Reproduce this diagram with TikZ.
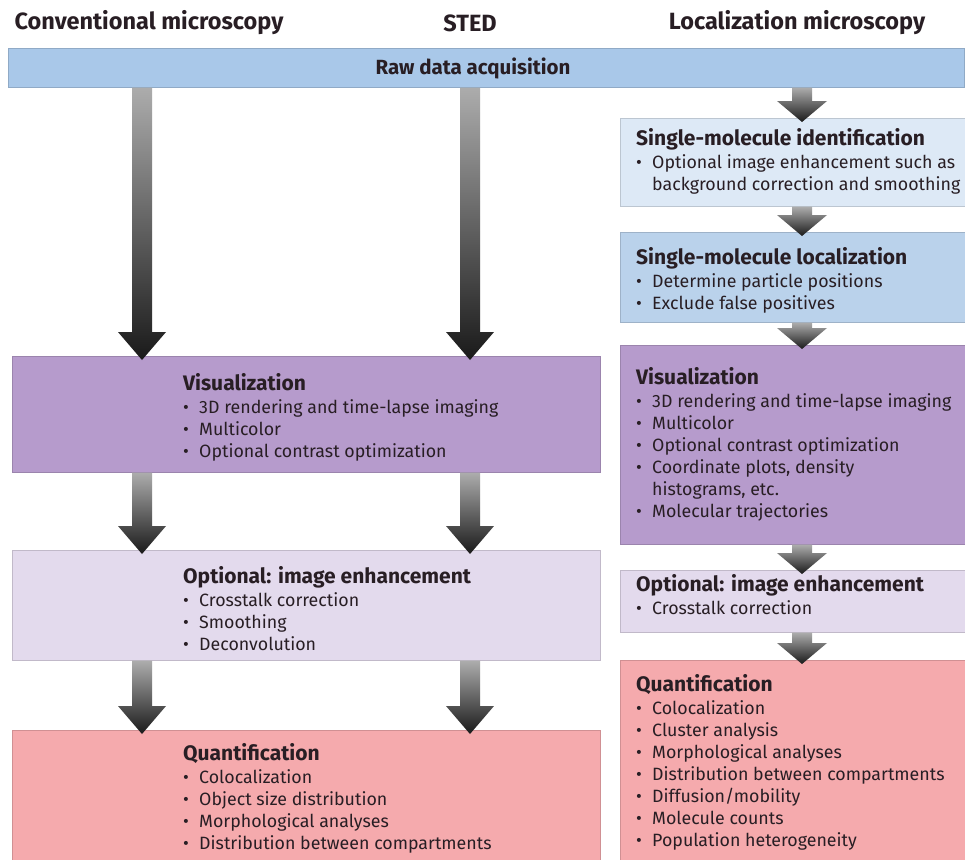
\documentclass[tikz,border=0pt]{standalone}
\usepackage{fontspec}
\setmainfont{Fira Sans}
\newfontfamily\headfont{Fira Sans Bold}
\usetikzlibrary{calc}
\definecolor{rawblue}{RGB}{169,200,233}
\definecolor{smiblue}{RGB}{221,233,246}
\definecolor{smlblue}{RGB}{186,210,235}
\definecolor{vispurple}{RGB}{182,155,204}
\definecolor{optlav}{RGB}{227,218,237}
\definecolor{quantpink}{RGB}{245,170,173}
\definecolor{ink}{RGB}{40,30,36}
\tikzset{
  boxshape/.style={rectangle, inner sep=0pt, anchor=north west, draw=#1!85!black, line width=0.7pt, fill=#1},
  headtext/.style={font=\headfont\fontsize{23.5}{26}\selectfont, text=ink, inner sep=0pt},
  bodytext/.style={align=left, anchor=north west, inner sep=0pt, text=ink, font=\fontsize{17.8}{22}\selectfont},
  fatshade/.style={top color=gray!65, bottom color=black!90, draw=none}
}
\newcommand\ttl[1]{{\fontsize{21}{22}\selectfont\bfseries #1}\\[1pt]}
\newcommand\bul[1]{\makebox[0.9em][l]{\textbullet}#1}
\newcommand\cont[1]{\makebox[0.9em][l]{}#1}
% #1 column coordinate, #2 top node, #3 bottom node, #4 shaft half width, #5 head half width, #6 head length
\newcommand\fatarrow[6]{%
  \path[fatshade] let \p1=(#1 |- #2.south), \p2=(#1 |- #3.north) in
   (\x1-#4pt,\y1) -- (\x1-#4pt,\y2+#6pt-4pt) -- (\x1-#5pt,\y2+#6pt-4pt) -- (\x1,\y2-4pt)
   -- (\x1+#5pt,\y2+#6pt-4pt) -- (\x1+#4pt,\y2+#6pt-4pt) -- (\x1+#4pt,\y1) -- cycle;}
\begin{document}
\begin{tikzpicture}[x=1pt,y=-1pt]
\useasboundingbox (0,0) rectangle (965,859);
\fill[white] (0,0) rectangle (965,859);
% column coordinates
\coordinate (cA) at (142,0);
\coordinate (cB) at (470,0);
\coordinate (cC) at (802,0);
% headers
\node[headtext] (h1) at (149,23) {Conventional microscopy};
\node[headtext] (h2) at (470,23) {STED};
\node[headtext] (h3) at (797,23) {Localization microscopy};
% raw data bar
\node[boxshape=rawblue, minimum width=956pt, minimum height=39pt] (raw) at (8,48) {};
\node[font=\headfont\fontsize{20.5}{22}\selectfont, text=ink, inner sep=0pt] (rawt) at (473,68) {Raw data acquisition};
% left boxes
\node[boxshape=vispurple, minimum width=588pt, minimum height=116pt] (vis1) at (12,356) {};
\node[boxshape=optlav, minimum width=588pt, minimum height=110pt] (opt1) at (12,550) {};
\node[boxshape=quantpink, minimum width=588pt, minimum height=132pt] (quant1) at (12,730) {};
% right boxes
\node[boxshape=smiblue, minimum width=346pt, minimum height=88pt] (smi) at (620,118) {};
\node[boxshape=smlblue, minimum width=346pt, minimum height=90pt] (sml) at (620,232) {};
\node[boxshape=vispurple, minimum width=346pt, minimum height=199pt] (vis2) at (620,345) {};
\node[boxshape=optlav, minimum width=346pt, minimum height=62pt] (opt2) at (620,570) {};
\node[boxshape=quantpink, minimum width=346pt, minimum height=202pt] (quant2) at (620,660) {};
% texts left
\node[bodytext] (vis1t) at (183,373) {\ttl{Visualization}
\bul{3D rendering and time-lapse imaging}\\
\bul{Multicolor}\\
\bul{Optional contrast optimization}};
\node[bodytext] (opt1t) at (183,566) {\ttl{Optional: image enhancement}
\bul{Crosstalk correction}\\
\bul{Smoothing}\\
\bul{Deconvolution}};
\node[bodytext] (quant1t) at (183,743) {\ttl{Quantification}
\bul{Colocalization}\\
\bul{Object size distribution}\\
\bul{Morphological analyses}\\
\bul{Distribution between compartments}};
% texts right
\node[bodytext] (smit) at (636,128) {\ttl{Single-molecule identification}
\bul{Optional image enhancement such as}\\
\cont{background correction and smoothing}};
\node[bodytext] (smlt) at (636,247) {\ttl{Single-molecule localization}
\bul{Determine particle positions}\\
\bul{Exclude false positives}};
\node[bodytext] (vis2t) at (636,367) {\ttl{Visualization}
\bul{3D rendering and time-lapse imaging}\\
\bul{Multicolor}\\
\bul{Optional contrast optimization}\\
\bul{Coordinate plots, density}\\
\cont{histograms, etc.}\\
\bul{Molecular trajectories}};
\node[bodytext] (opt2t) at (636,574) {\ttl{Optional: image enhancement}
\bul{Crosstalk correction}};
\node[bodytext] (quant2t) at (636,674) {\ttl{Quantification}
\bul{Colocalization}\\
\bul{Cluster analysis}\\
\bul{Morphological analyses}\\
\bul{Distribution between compartments}\\
\bul{Diffusion/mobility}\\
\bul{Molecule counts}\\
\bul{Population heterogeneity}};
% arrows left columns
\fatarrow{cA}{raw}{vis1}{10}{24}{28}
\fatarrow{cB}{raw}{vis1}{10}{24}{28}
\fatarrow{cA}{vis1}{opt1}{10}{24}{28}
\fatarrow{cB}{vis1}{opt1}{10}{24}{28}
\fatarrow{cA}{opt1}{quant1}{10}{24}{28}
\fatarrow{cB}{opt1}{quant1}{10}{24}{28}
% arrows right column
\fatarrow{cC}{raw}{smi}{10}{25}{21}
\fatarrow{cC}{smi}{sml}{10}{25}{21}
\fatarrow{cC}{sml}{vis2}{10}{25}{21}
\fatarrow{cC}{vis2}{opt2}{10}{25}{21}
\fatarrow{cC}{opt2}{quant2}{10}{25}{21}
\end{tikzpicture}
\end{document}
